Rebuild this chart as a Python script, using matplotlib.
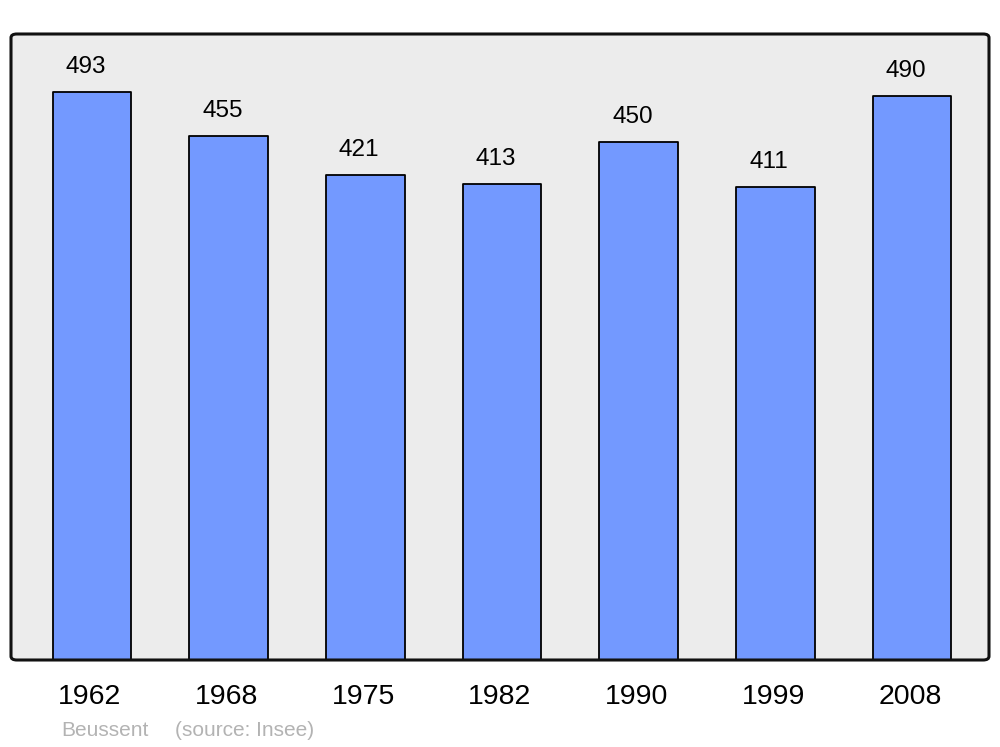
import matplotlib.pyplot as plt
from matplotlib.patches import FancyBboxPatch

years = ["1962", "1968", "1975", "1982", "1990", "1999", "2008"]
population = [493, 455, 421, 413, 450, 411, 490]
place = "Beussent"
source = "(source: Insee)"

plt.rcParams['font.family'] = ['Liberation Sans', 'DejaVu Sans']

fig = plt.figure(figsize=(10, 7.47), dpi=100)
ax = fig.add_axes([11 / 1000, 87 / 747, 978 / 1000, 626 / 747])
ax.set_facecolor('#ececec')

x = list(range(len(years)))
bars = ax.bar(x, population, width=0.575, color='#7399ff',
              edgecolor='black', linewidth=1.3, zorder=2)
for b in bars:
    b.set_joinstyle('round')

for i, v in zip(x, population):
    ax.text(i - 0.045, v + 21.5, str(v), ha='center', va='center',
            fontsize=17.5)
    ax.text(i - 0.015, -32.5, years[i], ha='center', va='center',
            fontsize=20.5, clip_on=False)

ax.set_xlim(-0.593, 6.563)
ax.set_ylim(0, 543.4)
ax.set_xticks([])
ax.set_yticks([])
for s in ax.spines.values():
    s.set_visible(False)

# rounded frame
frame = FancyBboxPatch((0, 0), 1, 1, boxstyle="round,pad=0,rounding_size=0.006",
                       transform=ax.transAxes, fill=False, edgecolor='#111111',
                       linewidth=2.2, clip_on=False, zorder=5)
ax.add_patch(frame)

fig.text(61 / 1000, 1 - 731 / 747, place, color='#b3b3b3', fontsize=15,
         va='center', ha='left')
fig.text(175 / 1000, 1 - 731 / 747, source, color='#b3b3b3', fontsize=15,
         va='center', ha='left')

fig.savefig('out.png', dpi=100)
